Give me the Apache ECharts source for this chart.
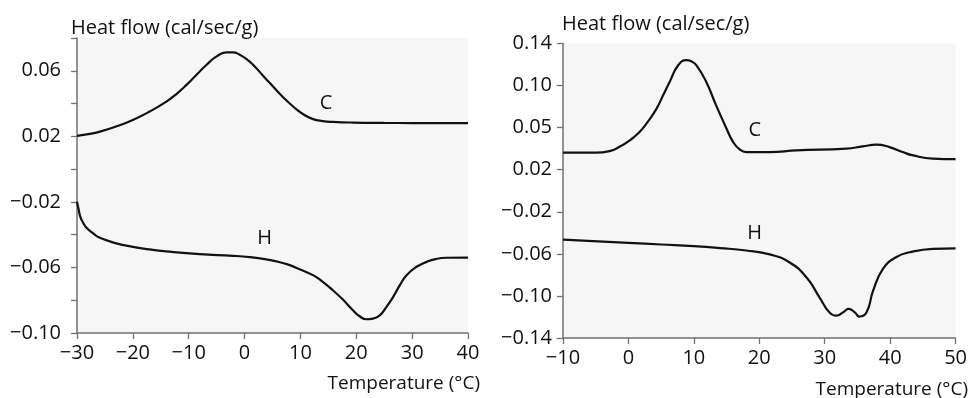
<!DOCTYPE html>
<html>
<head>
<meta charset="utf-8">
<script src="https://cdn.jsdelivr.net/npm/echarts@6/dist/echarts.min.js"></script>
<style>
html,body{margin:0;padding:0;background:#fff;}
#chart{width:970px;height:398px;}
</style>
</head>
<body>
<div id="chart"></div>
<script>
// ---- Left panel data ----
var leftC_T = [-30, -27.7, -25.9, -23, -20, -17, -14, -12.2, -10.4, -8.6, -6.8, -5.0, -3.25, -2.07, -0.87, 0.33, 1.52, 3.3, 5.1, 6.9, 8.7, 10.5, 12.25, 14.0, 15.8, 19.4, 25, 30, 35, 40];
var leftC_V = [0.0203, 0.0215, 0.0229, 0.0260, 0.0300, 0.0351, 0.0412, 0.0458, 0.0514, 0.0576, 0.0637, 0.0688, 0.0712, 0.0712, 0.0698, 0.0672, 0.0637, 0.0570, 0.0504, 0.0439, 0.0382, 0.0335, 0.0305, 0.0293, 0.0288, 0.0284, 0.0282, 0.0281, 0.0280, 0.0280];
var leftH_T = [-30, -29.75, -29.4, -28.9, -28.3, -27.1, -25.9, -22.95, -20, -17, -14, -8.05, -2.07, 0.92, 3.9, 6.3, 8.1, 9.85, 12.25, 14.0, 15.8, 17.6, 19.4, 20.6, 21.8, 23.0, 24.2, 25.4, 26.6, 27.8, 29.0, 30.8, 32.6, 34.2, 36.1, 40];
var leftH_V = [-0.0199, -0.0239, -0.0291, -0.0327, -0.0358, -0.0392, -0.0419, -0.0453, -0.0474, -0.0490, -0.0502, -0.0519, -0.0529, -0.0537, -0.0551, -0.0568, -0.0586, -0.0611, -0.0647, -0.0688, -0.0739, -0.0796, -0.0861, -0.0898, -0.0916, -0.0912, -0.0892, -0.0841, -0.0780, -0.0708, -0.0647, -0.0596, -0.0566, -0.0549, -0.0541, -0.0540];

// ---- Right panel data ----
var rightC_T = [-10, -5, -2.9, -1.3, 0.2, 1.7, 3.0, 4.3, 5.3, 6.3, 7.6, 8.85, 9.6, 10.4, 11.9, 13.4, 15.0, 16.0, 17.0, 18.0, 21.6, 25.7, 33.3, 35.8, 37.9, 39.9, 41.9, 43.5, 46.5, 50];
var rightC_V = [0.0362, 0.0362, 0.0377, 0.0420, 0.0479, 0.0558, 0.0660, 0.0781, 0.0908, 0.1034, 0.1193, 0.1241, 0.1231, 0.1193, 0.1034, 0.0812, 0.0590, 0.0463, 0.0393, 0.0368, 0.0368, 0.0384, 0.0400, 0.0422, 0.0438, 0.0415, 0.0368, 0.0336, 0.0305, 0.0300];
var rightH_T = [-10, 0, 5, 10, 14, 18, 21.6, 24.6, 27.2, 29.2, 30.7, 31.8, 32.8, 33.65, 34.6, 35.3, 36.4, 37.4, 38.9, 40.9, 43, 46.5, 50];
var rightH_V = [-0.0464, -0.0495, -0.0511, -0.0527, -0.0545, -0.0568, -0.0605, -0.0680, -0.0823, -0.1013, -0.1156, -0.1188, -0.1156, -0.1124, -0.1156, -0.1197, -0.1156, -0.0950, -0.0743, -0.0632, -0.0585, -0.0552, -0.0547];

// ---- Tick values / labels ----
var leftYTickValues = [-0.10, -0.08, -0.06, -0.04, -0.02, 0, 0.02, 0.04, 0.06, 0.08];
var leftYLabelValues = [-0.10, -0.06, -0.02, 0.02, 0.06];
var leftYLabels = ['\u22120.10', '\u22120.06', '\u22120.02', '0.02', '0.06'];
var rightYTickValues = [-0.14, -0.10, -0.06, -0.02, 0.02, 0.06, 0.10, 0.14];
var rightYLabels = ['\u22120.14', '\u22120.10', '\u22120.06', '\u22120.02', '0.02', '0.05', '0.10', '0.14'];

// ---- Texts ----
var yTitle = 'Heat flow (cal/sec/g)';
var xTitle = 'Temperature (\u00B0C)';
var curveNames = ['C', 'H'];
var leftLabelPos = [[14.6, 0.0403], [3.6, -0.0423]];
var rightLabelPos = [[19.3, 0.0574], [19.3, -0.040]];

function pairs(t, v) { return t.map(function (x, i) { return [x, v[i]]; }); }
function lookup(vals, labels) {
  return function (v) {
    for (var i = 0; i < vals.length; i++) if (Math.abs(vals[i] - v) < 1e-6) return labels[i];
    return '';
  };
}
var FONT = 'Open Sans';
var FS = 20;
var TXT = '#111';
var AX = '#707070';

function xAxisCfg(idx, min, max) {
  return {
    type: 'value', gridIndex: idx, min: min, max: max, interval: 10,
    axisLine: { show: true, onZero: false, lineStyle: { color: AX, width: 1.5 } },
    axisTick: { show: true, length: 6, lineStyle: { color: AX, width: 1.3 } },
    axisLabel: { margin: 10, color: TXT, fontFamily: FONT, fontSize: FS,
      formatter: function (v) { return String(v).replace('-', '\u2212'); } },
    splitLine: { show: false }
  };
}
function yAxisCfg(idx, min, max, tickVals, labVals, labs, margin) {
  return {
    type: 'value', gridIndex: idx, min: min, max: max,
    axisLine: { show: true, onZero: false, lineStyle: { color: AX, width: 1.5 } },
    axisTick: { show: true, length: 6, customValues: tickVals, lineStyle: { color: AX, width: 1.3 } },
    axisLabel: { margin: margin, color: TXT, fontFamily: FONT, fontSize: FS, customValues: labVals,
      formatter: lookup(labVals, labs) },
    splitLine: { show: false }
  };
}
function lineSeries(xi, t, v, name, pos) {
  return {
    type: 'line', xAxisIndex: xi, yAxisIndex: xi, data: pairs(t, v),
    smooth: 0.5, showSymbol: false, symbol: 'none',
    lineStyle: { color: '#111', width: 2.2 },
    silent: true, animation: false,
    markPoint: {
      symbol: 'circle', symbolSize: 0, silent: true,
      data: [{ coord: pos, value: name }],
      label: { show: true, position: 'inside', formatter: name, color: TXT, fontFamily: FONT, fontSize: FS }
    }
  };
}

var chart = echarts.init(document.getElementById('chart'), null, { renderer: 'canvas' });
chart.setOption({
  animation: false,
  backgroundColor: '#ffffff',
  grid: [
    { left: 77, top: 38, width: 391, height: 295, show: true, backgroundColor: '#f6f6f6', borderWidth: 0 },
    { left: 563, top: 43.5, width: 393, height: 294.5, show: true, backgroundColor: '#f6f6f6', borderWidth: 0 }
  ],
  xAxis: [xAxisCfg(0, -30, 40), xAxisCfg(1, -10, 50)],
  yAxis: [
    yAxisCfg(0, -0.10, 0.08, leftYTickValues, leftYLabelValues, leftYLabels, 16),
    yAxisCfg(1, -0.14, 0.14, rightYTickValues, rightYTickValues, rightYLabels, 11)
  ],
  series: [
    lineSeries(0, leftC_T, leftC_V, curveNames[0], leftLabelPos[0]),
    lineSeries(0, leftH_T, leftH_V, curveNames[1], leftLabelPos[1]),
    lineSeries(1, rightC_T, rightC_V, curveNames[0], rightLabelPos[0]),
    lineSeries(1, rightH_T, rightH_V, curveNames[1], rightLabelPos[1])
  ],
  graphic: [
    { type: 'text', left: 71, top: 18, style: { text: yTitle, fill: TXT, font: FS + 'px "Open Sans"' } },
    { type: 'text', left: 562, top: 14, style: { text: yTitle, fill: TXT, font: FS + 'px "Open Sans"' } },
    { type: 'text', right: 490, top: 374, style: { text: xTitle, fill: TXT, font: '19px "Open Sans"' } },
    { type: 'text', right: 2, top: 380, style: { text: xTitle, fill: TXT, font: '19px "Open Sans"' } }
  ]
});
</script>
</body>
</html>
